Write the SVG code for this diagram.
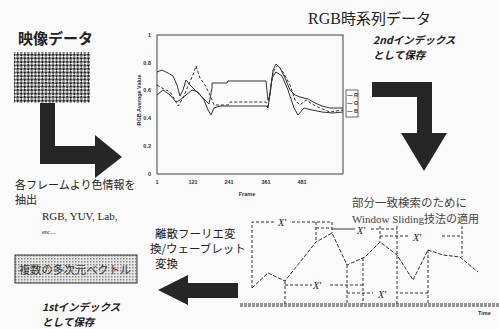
<svg xmlns="http://www.w3.org/2000/svg" width="499" height="329" viewBox="0 0 499 329">
<defs>
<pattern id="chk" width="5" height="5" patternUnits="userSpaceOnUse" patternTransform="rotate(45)">
<rect width="5" height="5" fill="#f4f4f4"/>
<rect width="2.5" height="2.5" fill="#222"/>
<rect x="2.5" y="2.5" width="2.5" height="2.5" fill="#222"/>
</pattern>
<pattern id="dots" width="3" height="3" patternUnits="userSpaceOnUse">
<rect width="3" height="3" fill="#e6e6e6"/>
<rect width="1.5" height="1.5" fill="#8a8a8a"/>
</pattern>
<style>
.jp{font-family:"Noto Sans CJK JP","Noto Sans",sans-serif;fill:#222}
.serif{font-family:"Liberation Serif","Noto Sans CJK JP",serif;fill:#222}
.idx{font-family:"Noto Sans CJK JP",sans-serif;font-style:italic;font-weight:bold;font-size:10.5px;fill:#222}
.ax{font-family:"Liberation Sans",sans-serif;font-size:5.5px;font-weight:bold;fill:#333}
.arrow{fill:#262626}
.frame{fill:none;stroke:#444;stroke-width:1}
.dl{fill:none;stroke:#333;stroke-width:1;stroke-dasharray:3 2}
.wave{fill:none;stroke:#333;stroke-width:1;stroke-dasharray:4 1.5}
.solid{fill:none;stroke:#333;stroke-width:1}
.xp{font-family:"Liberation Serif",serif;font-style:italic;font-size:10px;fill:#222}
</style>
</defs>
<rect width="499" height="329" fill="#fafafa"/>

<g id="video">
<text class="jp" x="18" y="44" font-size="15" font-weight="bold">映像データ</text>
<rect x="14" y="52" width="76" height="51" fill="url(#chk)"/>
</g>

<g id="extract">
<text class="jp" x="15" y="189" font-size="11">各フレームより色情報を</text>
<text class="jp" x="15" y="204" font-size="11">抽出</text>
<text class="serif" x="42" y="220" font-size="11">RGB, YUV, Lab,</text>
<text class="serif" x="42" y="234" font-size="7">etc...</text>
</g>

<g id="chart">
<text class="ax" transform="translate(141,100) rotate(-90)" text-anchor="middle">RGB Average Value</text>
<g class="ax" text-anchor="end">
<text x="151" y="37">1</text>
<text x="151" y="65">0.8</text>
<text x="151" y="92">0.6</text>
<text x="151" y="120">0.4</text>
<text x="151" y="148">0.2</text>
<text x="151" y="176">0</text>
</g>
<g class="ax" text-anchor="middle">
<text x="157" y="184">1</text>
<text x="193" y="184">121</text>
<text x="229" y="184">241</text>
<text x="266" y="184">361</text>
<text x="302" y="184">481</text>
<text x="247" y="196">Frame</text>
</g>
<rect class="frame" x="157" y="35" width="186" height="139"/>
<polyline class="solid" points="157,72 162,70 168,73 173,76 177,85 180,96 183,90 186,80 190,85 195,90 200,95 205,100 209,104 212,88 212,83 227,83 228,81 266,81 268,100 270,95 273,70 276,64 280,68 285,78 290,90 295,95 300,97 308,99 315,103 322,106 330,108 343,108"/>
<polyline class="dl" points="157,85 162,88 170,92 175,100 178,106 183,98 188,86 193,75 196,66 200,78 205,85 210,95 214,105 228,105 230,102 266,102 268,108 271,85 274,70 278,65 283,72 290,85 295,100 300,105 306,100 312,104 320,108 330,112 343,110"/>
<polyline class="solid" stroke-width="0.8" points="157,95 163,90 170,95 176,102 180,100 186,95 192,90 198,92 204,100 208,110 211,115 214,108 220,106 266,106 268,108 272,78 276,72 282,76 288,90 294,108 298,115 304,108 312,110 322,112 333,113 343,112"/>
<rect x="346" y="90" width="12" height="27" fill="#fff" stroke="#444" stroke-width="0.8"/>
<g class="ax" font-size="4.5">
<text x="347" y="97">— R</text>
<text x="347" y="105">— G</text>
<text x="347" y="113">— B</text>
</g>
</g>

<g id="rgb-series">
<text x="308" y="24" font-size="16"><tspan class="serif">RGB</tspan><tspan class="jp" font-size="15">時系列データ</tspan></text>
<text class="idx" x="373" y="44">2ndインデックス</text>
<text class="idx" x="373" y="59">として保存</text>
</g>

<g id="window">
<text class="jp" x="352" y="207" font-size="11.5" style="fill:#444">部分一致検索のために</text>
<text x="352" y="223" font-size="11" style="fill:#444"><tspan class="serif" style="fill:#444">Window Sliding</tspan><tspan class="jp" style="fill:#444">技法の適用</tspan></text>
<line x1="240" y1="304" x2="499" y2="304" stroke="#333" stroke-width="1" stroke-dasharray="3 1"/>
<line x1="240" y1="306" x2="499" y2="306" stroke="#333" stroke-width="1" stroke-dasharray="3 1"/>
<text class="ax" x="478" y="315" font-size="6">Time</text>
<polyline class="wave" points="252,288 268,273 285,281 316,242 332,233 347,265 365,257 380,242 397,255 413,280 428,250 443,255 460,257 478,272"/>
<!-- top windows -->
<polyline class="dl" points="252,288 252,222 275,222"/>
<line class="dl" x1="292" y1="222" x2="332" y2="222"/>
<text class="xp" x="278" y="226">X'</text>
<line class="dl" x1="316" y1="222" x2="316" y2="242"/>
<line class="dl" x1="332" y1="222" x2="332" y2="233"/>
<line class="dl" x1="316" y1="228" x2="332" y2="228"/>
<line class="solid" stroke="#666" x1="332" y1="229" x2="355" y2="229"/>
<text class="xp" x="357" y="234">X'</text>
<line class="dl" x1="371" y1="229" x2="397" y2="229"/>
<line class="dl" x1="380" y1="226" x2="380" y2="242"/>
<line class="dl" x1="397" y1="226" x2="397" y2="304"/>
<line class="dl" x1="380" y1="236" x2="410" y2="236"/>
<text class="xp" x="413" y="241">X'</text>
<line class="dl" x1="442" y1="236" x2="462" y2="236"/>
<line class="dl" x1="462" y1="226" x2="462" y2="257"/>
<!-- bottom windows -->
<line class="dl" x1="285" y1="281" x2="285" y2="304"/>
<line class="dl" x1="285" y1="285" x2="312" y2="285"/>
<text class="xp" x="313" y="289">X'</text>
<line class="dl" x1="330" y1="285" x2="363" y2="285"/>
<line class="dl" x1="347" y1="265" x2="347" y2="304"/>
<line class="dl" x1="363" y1="258" x2="363" y2="304"/>
<line class="dl" x1="347" y1="293" x2="373" y2="293"/>
<text class="xp" x="378" y="298">X'</text>
<line class="dl" x1="400" y1="293" x2="428" y2="293"/>
<line class="dl" x1="428" y1="250" x2="428" y2="304"/>
</g>

<g id="transform">
<text class="jp" x="155" y="238" font-size="11.5">離散フーリエ変</text>
<text class="jp" x="150" y="253" font-size="11.5">換/ウェーブレット</text>
<text class="jp" x="155" y="268" font-size="11.5">変換</text>
</g>

<g id="vector">
<rect x="15" y="255" width="122" height="28" fill="url(#dots)" stroke="#333" stroke-width="1"/>
<text class="jp" x="19" y="274" font-size="11.2" style="fill:#333">複数の多次元ベクトル</text>
<text class="idx" x="42" y="311">1stインデックス</text>
<text class="idx" x="42" y="326">として保存</text>
</g>

<g id="connectors">
<polygon class="arrow" points="40,103 55,103 55,146 95,146 95,135 122,157 95,178 95,164 40,164"/>
<polygon class="arrow" points="372,82 432,82 432,133 447,133 424,171 401,133 417,133 417,97 372,97"/>
<polygon class="arrow" points="158,290 188,275 188,283 238,283 238,298 188,298 188,305"/>
</g>
</svg>
